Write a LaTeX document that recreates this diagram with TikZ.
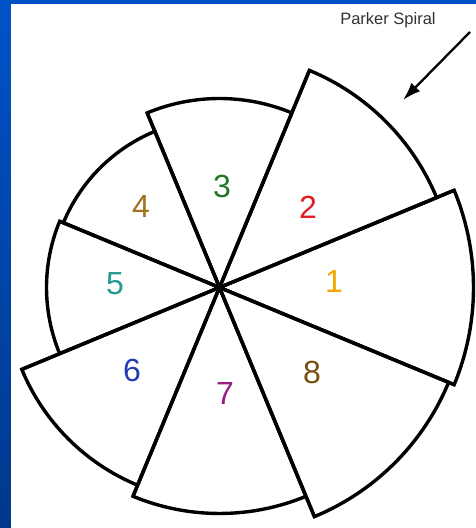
\documentclass[tikz,border=0pt]{standalone}
\usepackage{fontspec}
\setmainfont{Liberation Sans}
\usetikzlibrary{arrows.meta}
\definecolor{bgtop}{RGB}{0,82,200}
\definecolor{bgbot}{RGB}{0,56,140}
\definecolor{c1}{RGB}{245,168,0}
\definecolor{c2}{RGB}{225,30,40}
\definecolor{c3}{RGB}{30,120,40}
\definecolor{c4}{RGB}{160,116,30}
\definecolor{c5}{RGB}{40,155,145}
\definecolor{c6}{RGB}{35,60,180}
\definecolor{c7}{RGB}{150,30,130}
\definecolor{c8}{RGB}{120,80,20}
\definecolor{txtgray}{RGB}{50,50,50}
\tikzset{
  sector/.style={draw=black, line width=3.4pt, fill=white, line join=miter},
  spoke/.style={line width=3.4pt},
  num/.style={inner sep=0pt, font=\fontsize{32}{32}\selectfont},
  ptr/.style={line width=2.3pt, -{Latex[length=18pt,width=12pt]}}
}
\begin{document}
\begin{tikzpicture}[x=1pt,y=1pt]
\useasboundingbox (0,0) rectangle (476,528);
\shade[top color=bgtop, bottom color=bgbot] (0,0) rectangle (476,528);
\fill[white] (11,0) rectangle (476,524);
\coordinate (C) at (219.5,240.5);
\begin{scope}[shift={(C)}]
  \draw[sector] (0,0) -- (-22.5:254) arc (-22.5:22.5:254) -- cycle;
  \draw[sector] (0,0) -- (22.5:235) arc (22.5:67.5:235) -- cycle;
  \draw[sector] (0,0) -- (67.5:189) arc (67.5:112.5:189) -- cycle;
  \draw[sector] (0,0) -- (112.5:169) arc (112.5:157.5:169) -- cycle;
  \draw[sector] (0,0) -- (157.5:173) arc (157.5:202.5:173) -- cycle;
  \draw[sector] (0,0) -- (202.5:214) arc (202.5:247.5:214) -- cycle;
  \draw[sector] (0,0) -- (247.5:226) arc (247.5:292.5:226) -- cycle;
  \draw[sector] (0,0) -- (292.5:248) arc (292.5:337.5:248) -- cycle;
  \foreach \a/\r in {22.5/254, 67.5/235, 112.5/189, 157.5/173, 202.5/214, 247.5/226, 292.5/248, 337.5/254}
    \draw[spoke] (0,0) -- (\a:\r);
\end{scope}
\node[num, text=c1] (n1) at (334,247) {1};
\node[num, text=c2] (n2) at (308,321) {2};
\node[num, text=c3] (n3) at (222,342) {3};
\node[num, text=c4] (n4) at (141,322) {4};
\node[num, text=c5] (n5) at (115,244) {5};
\node[num, text=c6] (n6) at (132,158) {6};
\node[num, text=c7] (n7) at (225,135) {7};
\node[num, text=c8] (n8) at (312,156) {8};
\node[inner sep=0pt, text=txtgray, font=\fontsize{16.5}{16.5}\selectfont] (ps) at (388,508) {Parker Spiral};
\coordinate (a0) at (470,496);
\coordinate (a1) at (403,428);
\draw[ptr] (a0) -- (a1);
\end{tikzpicture}
\end{document}
